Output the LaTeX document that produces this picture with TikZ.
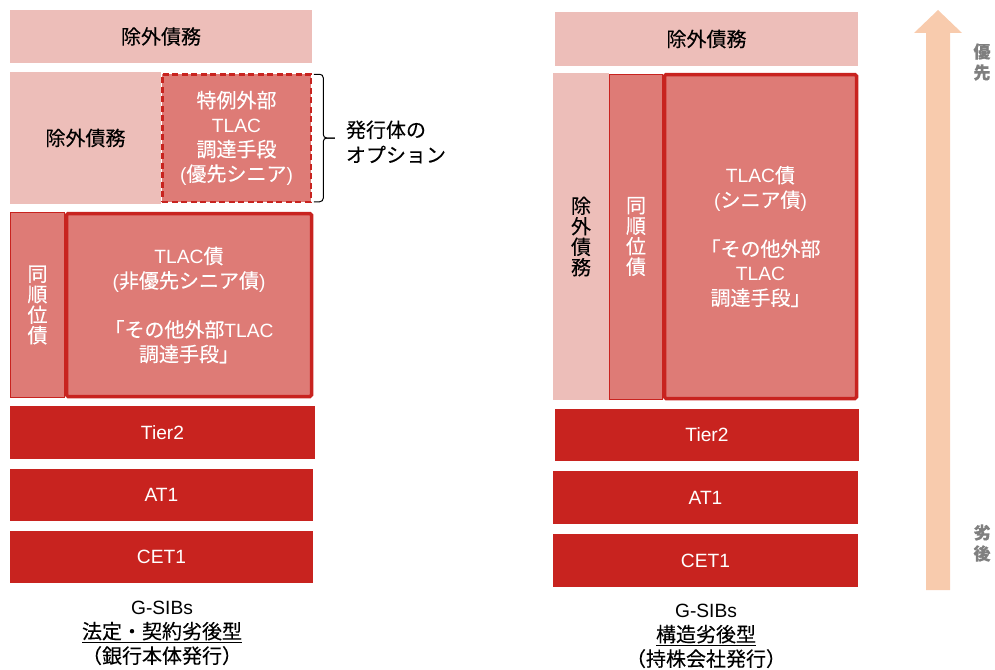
\documentclass[tikz,border=0pt]{standalone}
\usepackage{fontspec}
\setmainfont{Noto Sans CJK JP}[FakeBold=0.2]
\newfontfamily\lat{Liberation Sans}[Scale=0.96]
\definecolor{lightpk}{HTML}{EDBEB9}
\definecolor{midpk}{HTML}{DE7B76}
\definecolor{dred}{HTML}{C8231F}
\definecolor{peach}{HTML}{F8CBAD}
\definecolor{gtext}{HTML}{7F7F7F}
\begin{document}
\begin{tikzpicture}[x=1pt,y=-1pt,
  every node/.style={inner sep=0pt, outer sep=0pt, align=center, font=\fontsize{20}{24.5}\selectfont},
  box/.style={rectangle, draw=none},
  light/.style={box, fill=lightpk, text=black},
  midthin/.style={box, fill=midpk, draw=dred, line width=0.8pt, text=white},
  tlacbox/.style={box, fill=midpk, draw=dred, line width=3.5pt, rounded corners=1.5pt, text=white},
  optbox/.style={box, fill=midpk, draw=dred, line width=2.5pt, dash pattern=on 6pt off 3.5pt, text=white},
  capbox/.style={box, fill=dred, text=white},
  vert/.style={font=\fontsize{20}{20.5}\selectfont},
  sz/.style 2 args={minimum width=#1pt, minimum height=#2pt},
  side/.style={text=gtext, font=\fontsize{17}{21}\selectfont\bfseries},
  bracestyle/.style={line width=1pt, rounded corners=3.5pt},
]
\useasboundingbox (0,0) rectangle (995,669);

% ---------- left column ----------
\node[light, sz={302}{53}] (lt) at (161,36.5) {除外債務};
\node[light, sz={151}{132}] (lex) at (85.5,138) {除外債務};
\node[optbox, sz={148.5}{127.5}] (lopt) at (236.5,138) {特例外部\\{\lat TLAC}\\調達手段\\{\lat (}優先シニア{\lat )}};
\node[midthin, sz={54}{185}] (lsame) at (37.5,305) [vert] {同\\順\\位\\債};
\node[tlacbox, sz={245}{183}] (ltlac) at (189,305) {{\lat TLAC}債\\{\lat (}非優先シニア債{\lat )}\\~\\「その他外部{\lat TLAC}\\調達手段」};
\node[capbox, sz={305}{53}] (lt2) at (162.5,432.5) {\lat Tier2};
\node[capbox, sz={303}{52}] (lat1) at (161.5,495) {\lat AT1};
\node[capbox, sz={303}{52}] (lcet) at (161.5,557) {\lat CET1};
\node (lcap) at (162,633) {{\lat G-SIBs}\\\underline{法定・契約劣後型}\\（銀行本体発行）};

% brace and option label
\node[anchor=west, align=left, font=\fontsize{20}{25}\selectfont] (optlab) at (346,142) {発行体の\\オプション};
\draw[bracestyle] ([xshift=3pt]lopt.north east) -- ([xshift=12.5pt]lopt.north east)
  -- ([xshift=12.5pt]lopt.east) -- ([xshift=24pt]lopt.east);
\draw[bracestyle] ([xshift=3pt]lopt.south east) -- ([xshift=12.5pt]lopt.south east)
  -- ([xshift=12.5pt]lopt.east) -- ([xshift=24pt]lopt.east);

% ---------- right column ----------
\node[light, sz={303}{54}] (rt) at (706.5,39) {除外債務};
\node[light, sz={56}{327}] (rex) at (581,236.5) [vert] {除\\外\\債\\務};
\node[midthin, sz={53}{325}] (rsame) at (636,236.5) [vert] {同\\順\\位\\債};
\node[tlacbox, sz={192}{324}] (rtlac) at (760.5,236.5) {{\lat TLAC}債\\{\lat (}シニア債{\lat )}\\~\\「その他外部\\{\lat TLAC}\\調達手段」};
\node[capbox, sz={304}{52}] (rt2) at (707,435) {\lat Tier2};
\node[capbox, sz={305}{53}] (rat1) at (705.5,497.5) {\lat AT1};
\node[capbox, sz={305}{53}] (rcet) at (705.5,560.5) {\lat CET1};
\node (rcap) at (706,636) {{\lat G-SIBs}\\\underline{構造劣後型}\\（持株会社発行）};

% ---------- priority arrow ----------
\fill[peach] (926,590) -- (926,33) -- (914,33) -- (938,10) -- (962,33) -- (950,33) -- (950,590) -- cycle;
\node[side] (hi) at (982,62) {優\\先};
\node[side] (lo) at (982,543) {劣\\後};
\end{tikzpicture}
\end{document}
